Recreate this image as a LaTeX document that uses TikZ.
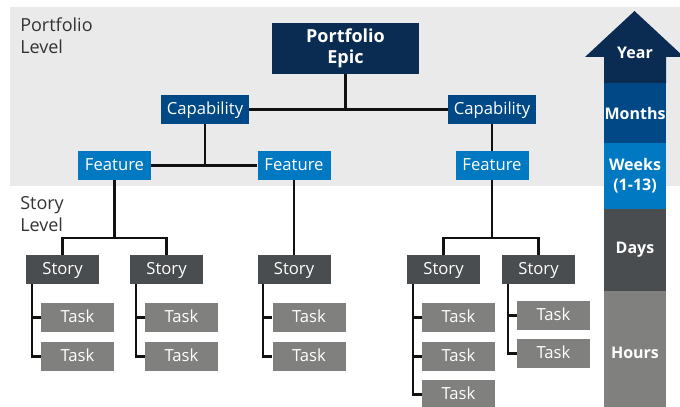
\documentclass[tikz,border=0pt]{standalone}
\usepackage{fontspec}
\setmainfont{Open Sans}
\usepackage{pgf,tikz}
\usetikzlibrary{arrows}
\usetikzlibrary{calc}

\definecolor{epicblue}{RGB}{10,44,82}
\definecolor{capblue}{RGB}{0,72,134}
\definecolor{featblue}{RGB}{0,121,194}
\definecolor{storygray}{RGB}{74,77,79}
\definecolor{taskgray}{RGB}{128,128,127}
\definecolor{bandgray}{RGB}{234,234,234}
\definecolor{linkblack}{RGB}{17,17,17}

\tikzset{
  box/.style={inner sep=0pt, text=white, text height=0.95em, text depth=0.15em,
    minimum height=21.75pt, minimum width=54.75pt, font=\fontsize{12.5}{15}\selectfont},
  epicbox/.style={box, fill=epicblue, minimum width=110.25pt, minimum height=38.25pt,
    align=center, text height=, text depth=, font=\fontsize{13.5}{15.75}\selectfont\bfseries},
  capbox/.style={box, fill=capblue, minimum width=66pt},
  featbox/.style={box, fill=featblue},
  storybox/.style={box, fill=storygray},
  taskbox/.style={box, fill=taskgray},
  levellabel/.style={anchor=north west, inner sep=0pt, align=left, text=black!80,
    font=\fontsize{13.5}{16.5}\selectfont},
  scalelabel/.style={inner sep=0pt, align=center, text=white,
    font=\fontsize{12}{15}\selectfont\bfseries},
  link/.style={draw=linkblack, line width=1.8pt}
}

\begin{document}
\begin{tikzpicture}[x=0.75pt, y=-0.75pt]
  \clip (0,0) rectangle (680,406);
  \fill[bandgray] (10,7) rectangle (680,186);
  \node[levellabel] (portlevel) at (20,17) {Portfolio\\Level};
  \node[levellabel] (storylevel) at (20,196) {Story\\Level};

  \node[epicbox] (epic) at (345.5,48.5) {Portfolio\\Epic};
  \node[capbox] (capL) at (205,109.5) {Capability};
  \node[capbox] (capR) at (492,109.5) {Capability};
  \node[featbox] (featL) at (114.5,165.5) {Feature};
  \node[featbox] (featM) at (294,165.5) {Feature};
  \node[featbox] (featR) at (492,165.5) {Feature};

  \foreach \s/\x in {1/62.5,2/166.5,3/294,4/443.5,5/538.5}
    \node[storybox] (story\s) at (\x,269.5) {Story};

  \foreach \s/\x in {1/77.5,2/181.5,3/309}
    \foreach \t/\y in {1/317.5,2/356.5}
      \node[taskbox] (task\s\t) at (\x,\y) {Task};
  \foreach \t/\y in {1/317.5,2/356.5,3/394.5}
    \node[taskbox] (task4\t) at (458.5,\y) {Task};
  \foreach \t/\y in {1/315.5,2/353.5}
    \node[taskbox] (task5\t) at (553.5,\y) {Task};

  \draw[link] (epic.south) -- (epic.south |- capL.east);
  \draw[link] (capL.east) -- (capR.west);
  \draw[link] (capL.south) -- (capL.south |- featL.east);
  \draw[link] (featL.east) -- (featM.west);
  \draw[link] (capR.south) -- (featR.north);
  \draw[link] (featM.south) -- (story3.north);
  \coordinate (jL) at (114.5,238);
  \coordinate (jR) at (492,238);
  \draw[link] (featL.south) -- (jL);
  \draw[link] (story1.north) |- (jL) -| (story2.north);
  \draw[link] (featR.south) -- (jR);
  \draw[link] (story4.north) |- (jR) -| (story5.north);

  \foreach \s/\t in {1/1,1/2,2/1,2/2,3/1,3/2,4/1,4/2,4/3,5/1,5/2}
    \draw[link] ([xshift=4.5pt]story\s.south west) |- (task\s\t.west);

  \fill[epicblue] (585,57) -- (634.5,11) -- (684,57) -- (666,57) -- (666,83)
    -- (604,83) -- (604,57) -- cycle;
  \node[scalelabel] (year) at (635,53) {Year};
  \foreach \top/\bottom/\col/\lbl in {83/143/capblue/Months,143/209/featblue/{Weeks\\(1-13)},
      209/291/storygray/Days,291/415/taskgray/Hours} {
    \fill[\col] (604,\top) rectangle (666,\bottom);
    \node[scalelabel] at (635,{(\top+\bottom)/2}) {\lbl};
  }
\end{tikzpicture}
\end{document}
